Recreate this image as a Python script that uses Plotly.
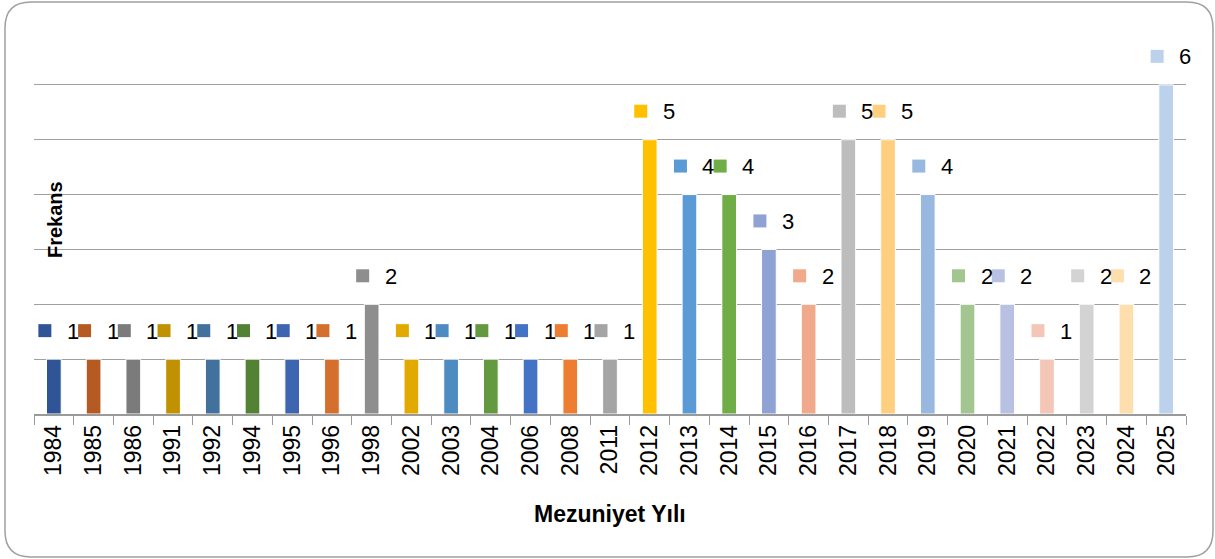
import plotly.graph_objects as go

years = ["1984", "1985", "1986", "1991", "1992", "1994", "1995", "1996", "1998",
         "2002", "2003", "2004", "2006", "2008", "2011", "2012", "2013", "2014",
         "2015", "2016", "2017", "2018", "2019", "2020", "2021", "2022", "2023",
         "2024", "2025"]
frequency = [1, 1, 1, 1, 1, 1, 1, 1, 2,
             1, 1, 1, 1, 1, 1, 5, 4, 4,
             3, 2, 5, 5, 4, 2, 2, 1, 2,
             2, 6]
bar_colors = ["#2F5597", "#B55A22", "#7B7B7B", "#C09100", "#41719C", "#548235",
              "#3D65B0", "#D46F2D", "#8E8E8E", "#E2AA00", "#4E8BC0", "#639A41",
              "#4472C4", "#ED7D31", "#A5A5A5", "#FFC000", "#5B9BD5", "#70AD47",
              "#8FA2D4", "#F1A98B", "#BDBDBD", "#FFCF80", "#98B8DF", "#A3C690",
              "#B8C1E2", "#F4C6B7", "#D3D3D3", "#FFDEAD", "#BCD1EB"]

W, H = 1215, 559
L, R, T, B = 34, 29, 30, 145
PW, PH = W - L - R, H - T - B

fig = go.Figure()
fig.add_trace(go.Bar(
    x=years, y=frequency,
    marker=dict(color=bar_colors, line=dict(color="white", width=1)),
    hoverinfo="x+y", showlegend=False,
))

shapes = []
annotations = []
for i, (v, c) in enumerate(zip(frequency, bar_colors)):
    shapes.append(dict(
        type="rect", xref="x", yref="y",
        xsizemode="pixel", ysizemode="pixel",
        xanchor=i, yanchor=v,
        x0=-15.5, x1=-2.5, y0=22, y1=35,
        fillcolor=c, line=dict(width=0), layer="above",
    ))
    annotations.append(dict(
        x=i, y=v, xref="x", yref="y", text=str(v), showarrow=False,
        xanchor="left", yanchor="middle", xshift=11, yshift=28,
        font=dict(family="Liberation Sans, Arial, sans-serif", size=22, color="#000000"),
    ))

# rounded outer border (pixel coordinates converted to paper)
def px(x):
    return (x - L) / PW

def py(y):
    return (H - B - y) / PH

x0b, y0b, x1b, y1b, r = 5, 2, 1213, 557, 26
path = (f"M {px(x0b + r)} {py(y0b)} L {px(x1b - r)} {py(y0b)} "
        f"Q {px(x1b)} {py(y0b)} {px(x1b)} {py(y0b + r)} "
        f"L {px(x1b)} {py(y1b - r)} Q {px(x1b)} {py(y1b)} {px(x1b - r)} {py(y1b)} "
        f"L {px(x0b + r)} {py(y1b)} Q {px(x0b)} {py(y1b)} {px(x0b)} {py(y1b - r)} "
        f"L {px(x0b)} {py(y0b + r)} Q {px(x0b)} {py(y0b)} {px(x0b + r)} {py(y0b)} Z")
shapes.append(dict(type="path", xref="paper", yref="paper", path=path,
                   line=dict(color="#A0A0A0", width=1.5), layer="below"))

annotations.append(dict(
    x=px(55), y=py(220), xref="paper", yref="paper", text="<b>Frekans</b>",
    textangle=-90, showarrow=False, xanchor="center", yanchor="middle",
    font=dict(family="Liberation Sans, Arial, sans-serif", size=20, color="#000000"),
))
annotations.append(dict(
    x=px(610), y=py(514), xref="paper", yref="paper", text="<b>Mezuniyet Yılı</b>",
    showarrow=False, xanchor="center", yanchor="middle",
    font=dict(family="Liberation Sans, Arial, sans-serif", size=23, color="#000000"),
))

fig.update_layout(
    width=W, height=H,
    margin=dict(l=L, r=R, t=T, b=B),
    paper_bgcolor="white", plot_bgcolor="white",
    bargap=0.63,
    shapes=shapes, annotations=annotations,
    xaxis=dict(
        type="category", range=[-0.5, len(years) - 0.5],
        tickangle=-90, ticks="outside", tickson="boundaries",
        ticklen=9, tickcolor="#9A9A9A", tickwidth=1,
        showline=True, linecolor="#9A9A9A", linewidth=1.5,
        showgrid=False,
        tickfont=dict(family="Liberation Sans, Arial, sans-serif", size=23, color="#000000"),
    ),
    yaxis=dict(
        range=[0, 7], dtick=1, showticklabels=False, showgrid=True,
        gridcolor="#A0A0A0", gridwidth=1, zeroline=False, showline=False,
        ticks="",
    ),
)

fig.write_html("out.html", config={"displayModeBar": False},
               post_script="document.body.style.margin='0';")
